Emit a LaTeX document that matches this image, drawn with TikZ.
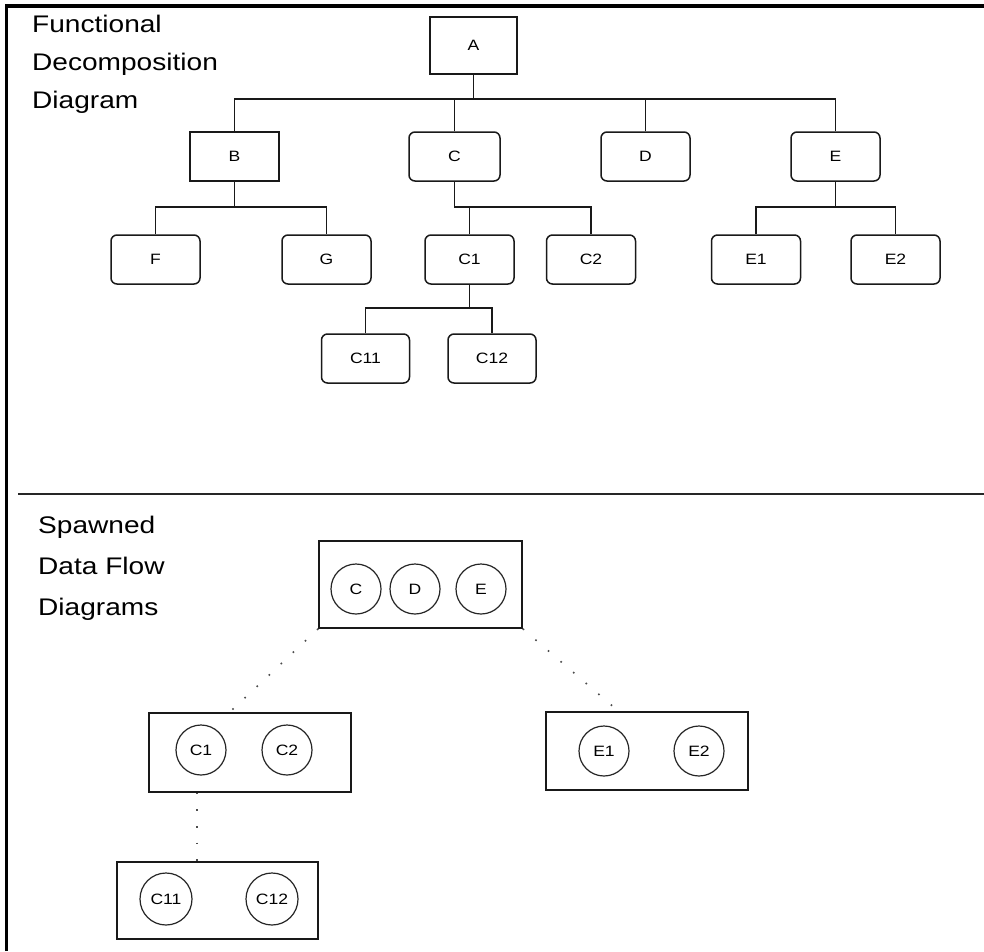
\documentclass[tikz,border=0pt]{standalone}
\usepackage{fontspec}
\setmainfont{Liberation Sans}[FakeStretch=1.17]
\usetikzlibrary{calc}
\begin{document}
\begin{tikzpicture}[x=1pt,y=-1pt,
  fbox/.style={draw=black!90, line width=1.5pt, minimum width=89pt, minimum height=49pt, inner sep=0pt, font=\fontsize{15}{17}\selectfont},
  rbox/.style={fbox, rounded corners=6pt},
  grp/.style={draw=black!90, line width=1.6pt, inner sep=0pt},
  proc/.style={circle, draw=black!85, line width=1.2pt, minimum size=50pt, inner sep=0pt, font=\fontsize{15}{17}\selectfont},
  link/.style={draw=black!90, line width=1.5pt},
  dots/.style={line width=1.6pt, dash pattern=on 1.6pt off 15pt, black!70},
  title/.style={anchor=north west, inner sep=0pt, align=left}]

\useasboundingbox (0,0) rectangle (984,951);
\fill[white] (0,0) rectangle (984,951);
\draw[line width=3.8pt, line join=miter] (6.5,951) -- (6.5,5.7) -- (984,5.7);
\draw[line width=1.8pt, black!85] (18,494) -- (984,494);

% titles
\node[title, font=\fontsize{24}{38}\selectfont] (t1) at (32,15) {Functional\\Decomposition\\Diagram};
\node[title, font=\fontsize{24}{41}\selectfont] (t2) at (38,516) {Spawned\\Data Flow\\Diagrams};

% functional decomposition
\node[fbox, minimum width=87pt, minimum height=57pt] (A) at (473.5,45.5) {A};
\node[fbox] (B) at (234.5,156.5) {B};
\node[rbox, minimum width=91pt] (C) at (454.5,156.5) {C};
\node[rbox] (D) at (645.5,156.5) {D};
\node[rbox] (E) at (835.5,156.5) {E};
\node[rbox] (F) at (155.5,259.5) {F};
\node[rbox] (G) at (326.5,259.5) {G};
\node[rbox] (C1) at (469.5,259.5) {C1};
\node[rbox] (C2) at (591,259.5) {C2};
\node[rbox] (E1) at (756,259.5) {E1};
\node[rbox] (E2) at (895.5,259.5) {E2};
\node[rbox, minimum width=88pt] (C11) at (365.5,358.5) {C11};
\node[rbox, minimum width=88pt] (C12) at (492,358.5) {C12};

\coordinate (busA) at (473.5,99);
\draw[link] (A.south) -- (busA);
\draw[link] (B.north) |- (busA) -| (E.north);
\draw[link] (C.north) -- (C.north |- busA);
\draw[link] (D.north) -- (D.north |- busA);
\coordinate (busB) at (234.5,207);
\draw[link] (B.south) -- (busB);
\draw[link] (F.north) |- (busB) -| (G.north);
\coordinate (busC) at (454.5,207);
\draw[link] (C.south) -- (busC) -| (C2.north);
\draw[link] (C1.north) -- (C1.north |- busC);
\coordinate (busC1) at (469.5,308);
\draw[link] (C1.south) -- (busC1);
\draw[link] (C11.north) |- (busC1) -| (C12.north);
\coordinate (busE) at (835.5,207);
\draw[link] (E.south) -- (busE);
\draw[link] (E1.north) |- (busE) -| (E2.north);

% spawned data flow diagrams
\node[grp, minimum width=203pt, minimum height=87pt] (CDE) at (420.5,584.5) {};
\node[proc] (pC) at (356,589) {C};
\node[proc] (pD) at (415,589) {D};
\node[proc] (pE) at (481,589) {E};

\node[grp, minimum width=202pt, minimum height=79pt] (G1) at (250,752.5) {};
\node[proc] (pC1) at (201,750) {C1};
\node[proc] (pC2) at (287,750) {C2};

\node[grp, minimum width=202pt, minimum height=78pt] (G2) at (647,751) {};
\node[proc] (pE1) at (604,751) {E1};
\node[proc] (pE2) at (699,751) {E2};

\node[grp, minimum width=201pt, minimum height=77pt] (G3) at (217.5,900.5) {};
\node[proc, minimum size=52pt] (pC11) at (166,899) {C11};
\node[proc, minimum size=52pt] (pC12) at (272,899) {C12};

\draw[dots] (CDE.south west) -- ($(G1.north west)!0.4!(G1.north east)$);
\draw[dots] (CDE.south east) -- ($(G2.north west)!0.36!(G2.north east)$);
\coordinate (q) at ($(G1.south west)!0.24!(G1.south east)$);
\draw[dots] (q) -- (q |- G3.north);
\end{tikzpicture}
\end{document}
